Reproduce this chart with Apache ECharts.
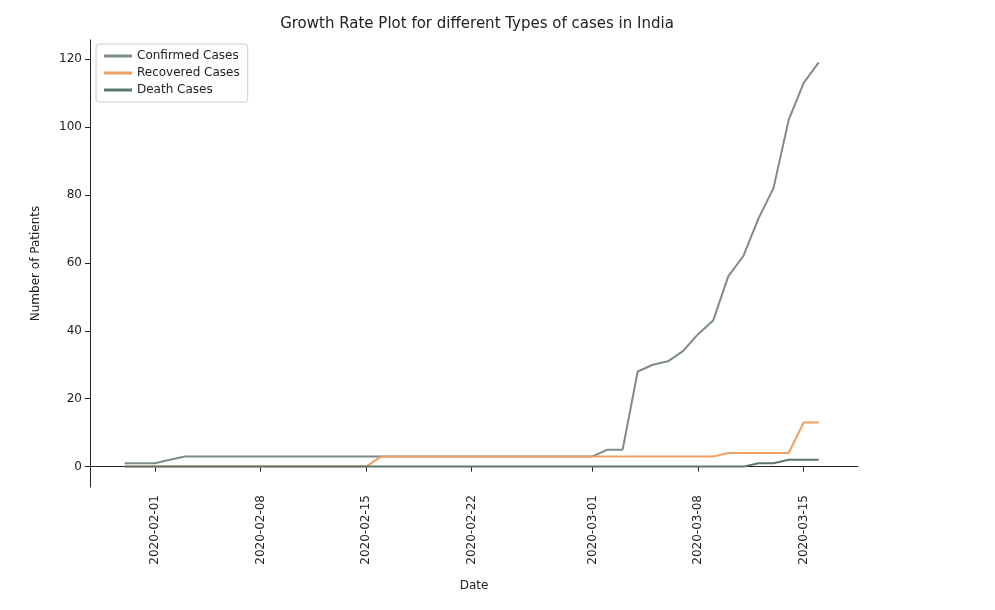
<!DOCTYPE html><html><head><meta charset="utf-8">
<script src="https://cdn.jsdelivr.net/npm/echarts@6/dist/echarts.min.js"></script>
<style>html,body{margin:0;background:#fff}#c{width:995px;height:610px}</style></head><body><div id="c"></div>
<script>
const dates = [];
(function(){let d=new Date(Date.UTC(2020,0,30));for(let i=0;i<47;i++){dates.push(d.toISOString().slice(0,10));d=new Date(d.getTime()+86400000);}})();
const confirmed = [1,1,1,2,3,3,3,3,3,3,3,3,3,3,3,3,3,3,3,3,3,3,3,3,3,3,3,3,3,3,3,3,5,5,28,30,31,34,39,43,56,62,73,82,102,113,119];
const recovered = [0,0,0,0,0,0,0,0,0,0,0,0,0,0,0,0,0,3,3,3,3,3,3,3,3,3,3,3,3,3,3,3,3,3,3,3,3,3,3,3,4,4,4,4,4,13,13];
const deaths = [0,0,0,0,0,0,0,0,0,0,0,0,0,0,0,0,0,0,0,0,0,0,0,0,0,0,0,0,0,0,0,0,0,0,0,0,0,0,0,0,0,0,1,1,2,2,2];
const tickDates = ['2020-02-01','2020-02-08','2020-02-15','2020-02-22','2020-03-01','2020-03-08','2020-03-15'];
const DAY=86400000;
const ts = s=>Date.parse(s+'T00:00:00Z');
const fmt = v=>new Date(v).toISOString().slice(0,10);
const pair = a=>a.map((v,i)=>[ts(dates[i]),v]);
const F='DejaVu Sans';
const chart = echarts.init(document.getElementById('c'));
chart.setOption({
  animation:false,
  textStyle:{fontFamily:F},
  title:{text:'Growth Rate Plot for different Types of cases in India',left:472,top:12,textAlign:'center',textStyle:{fontFamily:F,fontSize:15,fontWeight:'normal',color:'#222'}},
  legend:{left:96,top:44,orient:'vertical',itemGap:5,itemWidth:28,itemHeight:3,icon:'rect',borderColor:'#ccc',borderWidth:1,borderRadius:3,padding:[6,8],textStyle:{fontFamily:F,fontSize:12,color:'#222'},data:['Confirmed Cases','Recovered Cases','Death Cases']},
  grid:{left:90,right:137,top:40,bottom:123},
  xAxis:{type:'value',min:ts('2020-01-27')+0.7*DAY,max:ts('2020-03-18')+0.6*DAY,
    name:'Date',nameLocation:'middle',nameGap:93,nameTextStyle:{fontSize:12,color:'#222'},
    axisLine:{lineStyle:{color:'#222'}},splitLine:{show:false},
    axisTick:{show:true,customValues:tickDates.map(ts),lineStyle:{color:'#222'}},
    axisLabel:{rotate:90,fontSize:12,color:'#222',customValues:tickDates.map(ts),formatter:v=>fmt(v)}},
  yAxis:{type:'value',min:-6,max:125.6,
    name:'Number of Patients',nameLocation:'middle',nameGap:48,nameTextStyle:{fontSize:12,color:'#222'},
    axisLine:{show:true,lineStyle:{color:'#222'}},axisTick:{show:true,customValues:[0,20,40,60,80,100,120]},splitLine:{show:false},
    axisLabel:{fontSize:12,color:'#222',customValues:[0,20,40,60,80,100,120]}},
  series:[
    {name:'Confirmed Cases',type:'line',showSymbol:false,data:pair(confirmed),lineStyle:{color:'#7d8c8a',width:2},itemStyle:{color:'#7d8c8a'}},
    {name:'Recovered Cases',type:'line',showSymbol:false,data:pair(recovered),lineStyle:{color:'#f0a060',width:2},itemStyle:{color:'#f0a060'}},
    {name:'Death Cases',type:'line',showSymbol:false,data:pair(deaths),lineStyle:{color:'#5a7870',width:2},itemStyle:{color:'#5a7870'}}
  ]
});
</script></body></html>
